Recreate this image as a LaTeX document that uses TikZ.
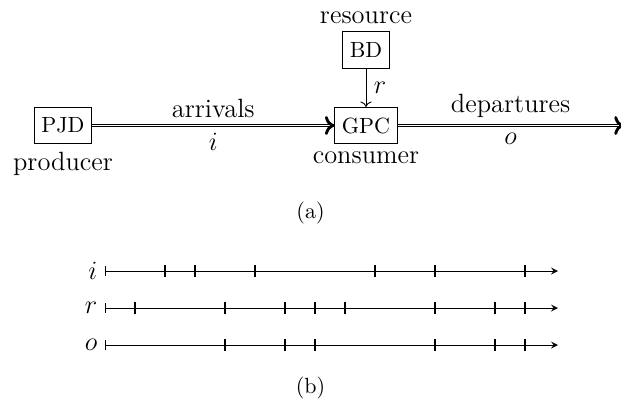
\documentclass[tikz,border=0pt]{standalone}
\usetikzlibrary{arrows.meta}
\begin{document}
\begin{tikzpicture}[x=0.4545pt,y=-0.4545pt,
  box/.style={draw, minimum height=16.5pt, inner sep=3.33pt, font=\normalsize},
  lbl/.style={font=\large},
  flow/.style={double},
  flowtip/.style={-{To[length=4.2pt,width=8.6pt,line width=1.3pt]}, line width=0.3pt},
  feed/.style={->},
  tickmark/.style={thick},
  axis/.style={|-stealth}]
\useasboundingbox (0,0) rectangle (621,403);

% (a) producer / consumer / resource
\node[box, label={[lbl]below:producer}] (pjd) at (63,125.5) {PJD};
\node[box, label={[lbl]below:consumer}] (gpc) at (366,125.5) {GPC};
\node[box, label={[lbl]above:resource}] (bd) at (366,50) {BD};
\coordinate (out) at (623.5,125.5);

% double flow lines, each closed by a solid chevron
\draw[flow] (pjd) -- (gpc)
  node[midway, above, lbl] {arrivals}
  node[midway, below, lbl] {$i$};
\draw[flowtip] ([xshift=-0.2pt]gpc.west) -- (gpc.west);
\draw[flow] (gpc) -- (out)
  node[midway, above, lbl] {departures}
  node[midway, below, lbl] {$o$};
\draw[flowtip] ([xshift=-0.2pt]out) -- (out);
\draw[feed] (bd) -- (gpc) node[midway, right, lbl] {$r$};

\node (capa) at (310.5,213) {(a)};

% (b) event timelines
\foreach \name/\yy/\ticks in {i/271/{2,3,5,9,11,14},
                              r/308/{1,4,6,7,8,11,13,14},
                              o/345/{4,6,7,11,13,14}} {
  \coordinate (s\name) at (105,\yy);
  \coordinate (e\name) at (558,\yy);
  \node[lbl, left] (l\name) at (s\name) {$\name$};
  \draw[axis] (s\name) -- (e\name);
  \foreach \t in \ticks {
    \draw[tickmark] (105+30*\t,\yy-6) -- (105+30*\t,\yy+6);
  }
}

\node (capb) at (310.5,388) {(b)};
\end{tikzpicture}
\end{document}
